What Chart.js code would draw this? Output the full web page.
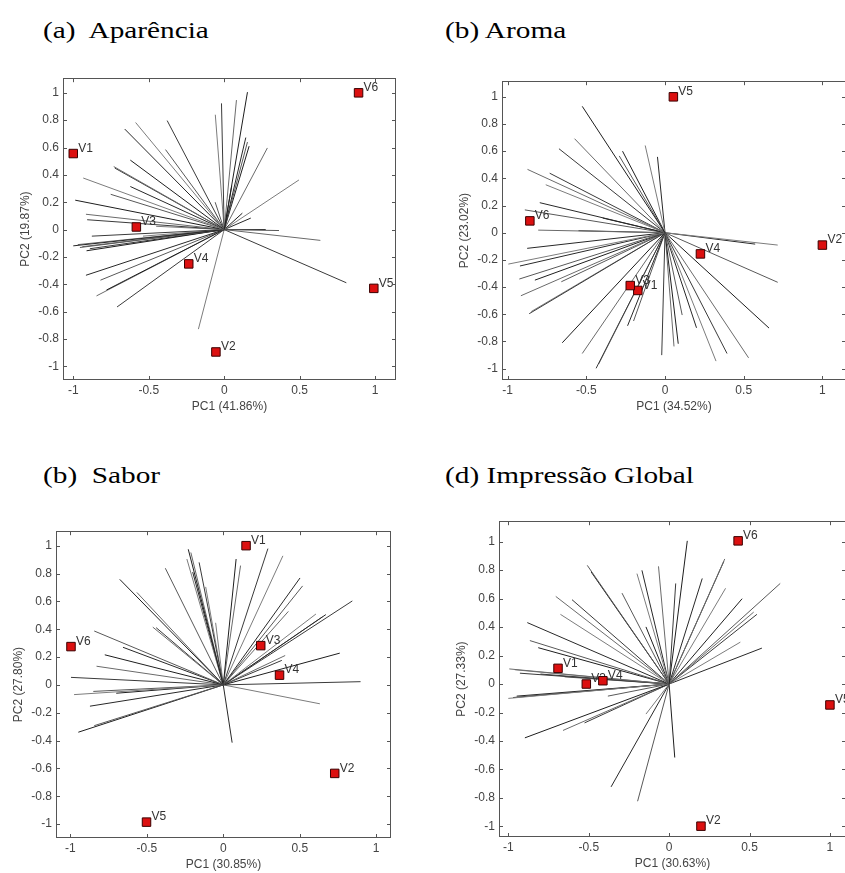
<!DOCTYPE html>
<html><head><meta charset="utf-8">
<script src="https://cdn.jsdelivr.net/npm/chart.js@4"></script>
<style>
html,body{margin:0;padding:0;background:#fff;overflow:hidden;width:845px;height:873px;position:relative;}
.title{position:absolute;font-family:"Liberation Serif","Times New Roman",serif;font-size:24px;color:#000;white-space:pre;line-height:1;transform:scaleX(1.22);transform-origin:0 0;}
canvas{position:absolute;}
</style></head><body>
<div class="title" style="left:43px;top:18px">(a)  Aparência</div>
<div class="title" style="left:445px;top:18px">(b) Aroma</div>
<div class="title" style="left:43px;top:463px">(b)  Sabor</div>
<div class="title" style="left:445px;top:463px">(d) Impressão Global</div>
<canvas id="c1"></canvas><canvas id="c2"></canvas><canvas id="c3"></canvas><canvas id="c4"></canvas>
<script>
// ---- tick labels ----
const xTickValues = [-1, -0.5, 0, 0.5, 1];
const yTickValues = [-1, -0.8, -0.6, -0.4, -0.2, 0, 0.2, 0.4, 0.6, 0.8, 1];

// ---- (a) Aparência ----
const aparenciaSamples = ['V1','V2','V3','V4','V5','V6'];
const aparenciaScoreX = [-1.0, -0.055, -0.582, -0.235, 0.991, 0.89];
const aparenciaScoreY = [0.556, -0.895, 0.019, -0.251, -0.43, 1.0];
const aparenciaLoadX = [0.154,0.081,-0.018,-0.059,0.143,0.154,0.165,0.286,-0.378,-0.587,-0.659,-0.389,-0.622,-0.732,-0.725,-0.934,-0.622,-0.752,-0.987,-0.916,-0.908,0.495,0.176,0.363,0.275,0.637,0.809,-0.451,-1.0,-0.956,-0.912,-0.97,-0.877,-0.538,-0.916,-0.82,-0.78,-0.846,-0.71,-0.171,0.05,-0.06,0.12,-0.94,-0.89];
const aparenciaLoadY = [1.005,0.947,0.923,0.84,0.673,0.64,0.61,0.597,0.797,0.783,0.735,0.585,0.508,0.461,0.45,0.377,0.315,0.258,0.215,0.112,0.072,0.363,0.084,-0.007,0.0,-0.079,-0.389,0.024,-0.119,-0.131,-0.155,-0.11,-0.048,-0.048,-0.334,-0.37,-0.442,-0.485,-0.566,-0.728,0.32,0.2,0.12,-0.125,-0.14];

// ---- (b) Aroma ----
const aromaSamples = ['V1','V2','V3','V4','V5','V6'];
const aromaScoreX = [-0.173, 1.0, -0.221, 0.225, 0.053, -0.859];
const aromaScoreY = [-0.425, -0.091, -0.389, -0.156, 1.0, 0.087];
const aromaLoadX = [-0.526,-0.575,-0.674,-0.126,-0.048,-0.291,-0.27,-0.874,-0.733,-0.758,-0.796,-0.891,-0.396,-0.806,-0.55,0.716,0.573,0.716,0.661,0.531,0.394,0.324,0.2,0.109,0.084,0.057,-0.021,-0.996,-0.922,-0.926,-0.827,-0.916,-0.863,-0.85,-0.876,-0.659,-0.653,-0.526,-0.438,-0.421,-0.238,-0.2];
const aromaLoadY = [0.93,0.692,0.618,0.642,0.558,0.565,0.6,0.466,0.438,0.353,0.221,0.168,0.108,0.019,0.015,-0.091,-0.084,-0.365,-0.702,-0.921,-0.889,-0.945,-0.7,-0.606,-0.817,-0.837,-0.901,-0.231,-0.245,-0.341,-0.349,-0.464,-0.596,-0.58,-0.115,-0.361,-0.81,-0.889,-0.998,-0.966,-0.685,-0.65];

// ---- (b) Sabor ----
const saborSamples = ['V1','V2','V3','V4','V5','V6'];
const saborScoreX = [0.149, 0.729, 0.245, 0.368, -0.502, -0.996];
const saborScoreY = [1.0, -0.636, 0.282, 0.07, -0.986, 0.275];
const saborLoadX = [-0.229,-0.212,-0.158,-0.238,-0.2,-0.379,0.084,0.113,0.292,0.39,0.502,0.519,-0.677,-0.565,0.844,0.606,0.671,0.65,0.762,0.405,0.898,0.632,0.058,-0.844,-0.775,-0.829,-0.996,-0.976,-0.872,-0.844,-0.948,-0.461,-0.439,-0.05,-0.656,-0.85,-0.7,0.426,0.383,-0.115];
const saborLoadY = [0.974,0.951,0.88,0.904,0.81,0.838,0.904,0.857,0.979,0.927,0.768,0.711,0.758,0.664,0.603,0.509,0.505,0.49,0.228,0.211,0.023,-0.136,-0.415,0.387,0.216,0.134,0.054,-0.07,-0.153,-0.293,-0.34,0.415,0.411,0.446,0.27,-0.047,-0.06,0.528,0.176,0.704];

// ---- (d) Impressão Global ----
const globalSamples = ['V1','V2','V3','V4','V5','V6'];
const globalScoreX = [-0.691, 0.198, -0.515, -0.412, 1.0, 0.429];
const globalScoreY = [0.11, -0.998, 0.0, 0.023, -0.147, 1.005];
const globalLoadX = [0.113,-0.066,0.041,-0.2,-0.169,-0.509,-0.485,0.346,0.34,0.351,0.206,0.691,0.454,0.526,0.546,0.443,0.577,-0.293,-0.144,-0.705,-0.604,-0.676,-0.882,-0.866,-0.814,-0.994,-0.928,-1.0,-0.948,-0.381,-0.897,-0.66,-0.526,-0.144,-0.361,-0.196,0.035,-0.65,-0.8,-0.96,-0.97];
const globalLoadY = [1.005,0.826,0.706,0.775,0.798,0.833,0.787,0.878,0.86,0.672,0.741,0.706,0.599,0.505,0.489,0.294,0.252,0.638,0.401,0.615,0.592,0.489,0.431,0.305,0.255,0.106,0.076,-0.101,-0.085,-0.085,-0.378,-0.326,-0.273,-0.211,-0.722,-0.823,-0.516,0.05,0.07,0.1,-0.095];

// ---- styles / layout ----
const FONT = '"Liberation Sans", Arial, sans-serif';
const TXT = '#444';
const shades = ['#1e1e1e','#6a6a6a','#3a3a3a','#7c7c7c','#282828','#585858'];
const YW = 45, XH = 36, PADT = 5, PADR = 5;

const frameTicks = {
  id: 'frameTicks',
  afterDatasetsDraw(chart) {
    const {ctx, chartArea: a, scales: {x, y}} = chart;
    ctx.save();
    ctx.strokeStyle = '#555'; ctx.lineWidth = 1;
    ctx.beginPath();
    x.ticks.forEach(t => {
      const p = Math.round(x.getPixelForValue(t.value)) + 0.5;
      ctx.moveTo(p, a.bottom); ctx.lineTo(p, a.bottom - 4);
      ctx.moveTo(p, a.top); ctx.lineTo(p, a.top + 4);
    });
    y.ticks.forEach(t => {
      const p = Math.round(y.getPixelForValue(t.value)) + 0.5;
      ctx.moveTo(a.left, p); ctx.lineTo(a.left + 4, p);
      ctx.moveTo(a.right, p); ctx.lineTo(a.right - 4, p);
    });
    ctx.stroke();
    ctx.strokeRect(Math.round(a.left) + 0.5, Math.round(a.top) + 0.5, Math.round(a.right - a.left) - 1, Math.round(a.bottom - a.top) - 1);
    ctx.restore();
  }
};

const pointLabels = {
  id: 'pointLabels',
  beforeDatasetDraw(chart, args) {
    if (args.index !== 0) return;
    const meta = args.meta, ds = chart.data.datasets[0];
    const ctx = chart.ctx;
    ctx.save();
    ctx.font = '12px ' + FONT;
    ctx.fillStyle = '#333';
    ctx.textBaseline = 'middle';
    ctx.textAlign = 'left';
    meta.data.forEach((el, i) => ctx.fillText(ds.labelsText[i], el.x + 5, el.y - 5));
    ctx.restore();
  }
};

function fmt(v) { return String(Math.round(v * 10) / 10); }

function makePanel(id, area, xr, yr, xTitle, yTitle, samples, sx, sy, lx, ly) {
  const cv = document.getElementById(id);
  const w = area.right - area.left + YW + PADR;
  const h = area.bottom - area.top + PADT + XH;
  cv.width = w; cv.height = h;
  cv.style.left = (area.left - YW) + 'px';
  cv.style.top = (area.top - PADT) + 'px';
  cv.style.width = w + 'px'; cv.style.height = h + 'px';
  const datasets = [{
    label: 'scores',
    data: samples.map((s, i) => ({x: sx[i], y: sy[i]})),
    labelsText: samples,
    showLine: false,
    pointStyle: 'rect',
    pointRadius: 6,
    backgroundColor: '#dc1010',
    borderColor: '#3a0000',
    borderWidth: 1,
    order: 0,
    clip: false
  }];
  lx.forEach((v, i) => datasets.push({
    label: 'load' + i,
    data: [{x: 0, y: 0}, {x: v, y: ly[i]}],
    showLine: true,
    borderColor: shades[i % shades.length],
    borderWidth: 1,
    pointRadius: 0,
    order: 1
  }));
  const tickFont = {family: FONT, size: 12};
  new Chart(cv, {
    type: 'scatter',
    data: {datasets},
    plugins: [frameTicks, pointLabels],
    options: {
      responsive: false, animation: false, devicePixelRatio: 1,
      layout: {padding: {left: 0, top: PADT, right: PADR, bottom: 0}},
      plugins: {legend: {display: false}, tooltip: {enabled: false}},
      scales: {
        x: {
          type: 'linear', min: xr[0], max: xr[1],
          afterBuildTicks: s => { s.ticks = xTickValues.map(v => ({value: v})); },
          afterFit: s => { s.height = XH; },
          grid: {display: false, drawTicks: false},
          border: {display: false},
          ticks: {font: tickFont, color: TXT, padding: 3, callback: v => fmt(v), maxRotation: 0, autoSkip: false},
          title: {display: true, text: xTitle, color: TXT, font: tickFont, padding: {top: 0, bottom: 2}}
        },
        y: {
          type: 'linear', min: yr[0], max: yr[1],
          afterBuildTicks: s => { s.ticks = yTickValues.map(v => ({value: v})); },
          afterFit: s => { s.width = YW; },
          grid: {display: false, drawTicks: false},
          border: {display: false},
          ticks: {font: tickFont, color: TXT, padding: 4, callback: v => fmt(v), autoSkip: false},
          title: {display: true, text: yTitle, color: TXT, font: tickFont, padding: {top: 0, bottom: 0}}
        }
      }
    }
  });
}

makePanel('c1', {left: 63, top: 72, right: 398, bottom: 380}, [-1.068, 1.138], [-1.1, 1.107],
  'PC1 (41.86%)', 'PC2 (19.87%)', aparenciaSamples, aparenciaScoreX, aparenciaScoreY, aparenciaLoadX, aparenciaLoadY);
makePanel('c2', {left: 502, top: 75, right: 848, bottom: 380}, [-1.036, 1.15], [-1.084, 1.115],
  'PC1 (34.52%)', 'PC2 (23.02%)', aromaSamples, aromaScoreX, aromaScoreY, aromaLoadX, aromaLoadY);
makePanel('c3', {left: 56, top: 525, right: 393, bottom: 838}, [-1.094, 1.097], [-1.1, 1.104],
  'PC1 (30.85%)', 'PC2 (27.80%)', saborSamples, saborScoreX, saborScoreY, saborLoadX, saborLoadY);
makePanel('c4', {left: 499, top: 515, right: 848, bottom: 837}, [-1.058, 1.10], [-1.074, 1.143],
  'PC1 (30.63%)', 'PC2 (27.33%)', globalSamples, globalScoreX, globalScoreY, globalLoadX, globalLoadY);
</script>
</body></html>
